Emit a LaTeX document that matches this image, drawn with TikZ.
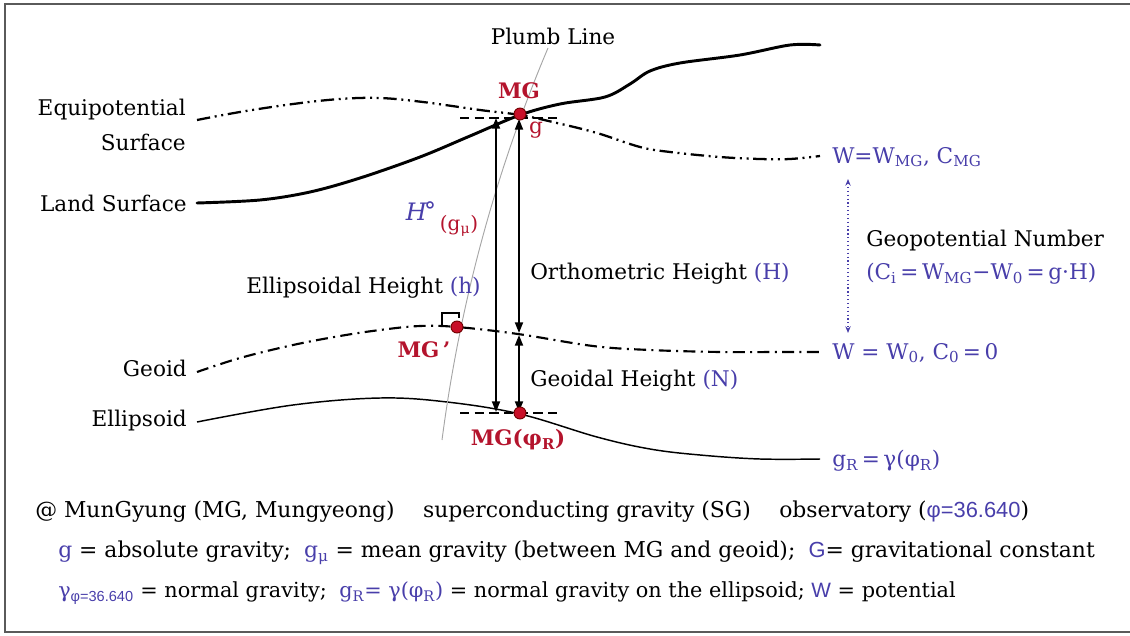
\documentclass[tikz,border=0pt]{standalone}
\usepackage{fontspec}
\setmainfont{DejaVu Serif}
\newfontfamily\lsans{Liberation Sans}
\usetikzlibrary{arrows.meta}
\definecolor{blueT}{RGB}{72,62,170}
\definecolor{redT}{RGB}{180,20,45}
\definecolor{dotred}{RGB}{200,15,40}
\definecolor{frameC}{RGB}{90,90,90}
\begin{document}
\begin{tikzpicture}[x=0.75pt,y=-0.75pt,
 lbl/.style={font=\fontsize{16.2}{19}\selectfont, inner sep=0pt},
 botlbl/.style={font=\fontsize{16.4}{19}\selectfont, inner sep=0pt},
 redlbl/.style={inner sep=0pt, text=redT, font=\fontsize{16}{19}\selectfont\bfseries},
 bluelbl/.style={lbl,text=blueT},
 mdot/.style={circle, fill=dotred, draw=red!45!black, line width=0.7pt, minimum size=9pt, inner sep=0pt},
 landS/.style={line width=2.2pt, line cap=round},
 equipS/.style={line width=1.7pt, dash pattern=on 10pt off 3.5pt on 1.5pt off 3.5pt on 1.5pt off 3.5pt},
 geoidS/.style={line width=1.6pt, dash pattern=on 9pt off 4pt on 1.5pt off 4pt},
 ellS/.style={line width=1.1pt},
 harrow/.style={line width=1.4pt, {Triangle[length=8pt,width=6pt]}-{Triangle[length=8pt,width=6pt]}},
 hdash/.style={line width=1.1pt, dash pattern=on 7pt off 4pt},
 plumbS/.style={gray!70, line width=0.7pt},
 gparrow/.style={blueT, dotted, line width=0.9pt, {Stealth[length=5pt,width=4pt]}-{Stealth[length=5pt,width=4pt]}},
]
\useasboundingbox (0,0) rectangle (1130,635);
% frame
\draw[frameC, line width=1.5pt] (1130,4) -- (5,4) -- (5,632) -- (1130,632);

% curves
\draw[landS] plot[smooth, tension=0.55] coordinates {(197,203) (260,200) (310,192) (360,178) (420,157) (470,136) (520,115) (560,104) (605,97) (630,84) (650,71) (680,63) (740,55) (790,45) (820,45)};
\draw[equipS] plot[smooth, tension=0.6] coordinates {(197,120) (240,112) (293,104) (340,99) (380,98) (423,102) (480,110) (520,115) (557,123) (597,133) (640,147) (670,152) (720,157) (760,159) (790,159) (820,156)};
\draw[geoidS] plot[smooth, tension=0.6] coordinates {(197,372) (240,358) (293,345) (340,336) (380,330) (420,326) (457,327) (518,334) (593,346) (650,350) (720,352) (780,352) (820,352)};
\draw[ellS] plot[smooth, tension=0.6] coordinates {(197,422) (293,405) (380,398) (447,402) (520,414) (597,437) (650,449) (700,455) (760,459) (820,459)};

% plumb line
\coordinate (plBot) at (442,440);
\coordinate (plTop) at (548,48);
\draw[plumbS] (plBot) .. controls (459,310) and (493,178) .. (plTop);

% dashed ticks
\coordinate (hdTa) at (460,118); \coordinate (hdTb) at (558,118);
\coordinate (hdBa) at (460,413); \coordinate (hdBb) at (558,413);
\draw[hdash] (hdTa) -- (hdTb);
\draw[hdash] (hdBa) -- (hdBb);

% height arrows
\coordinate (ehTop) at (496,118); \coordinate (ehBot) at (496,412);
\coordinate (ohTop) at (519,119); \coordinate (ohBot) at (519,333);
\coordinate (ghTop) at (519,335); \coordinate (ghBot) at (519,412);
\draw[harrow] (ehTop) -- (ehBot);
\draw[harrow] (ohTop) -- (ohBot);
\draw[harrow] (ghTop) -- (ghBot);

% right angle mark
\coordinate (ra1) at (442,326); \coordinate (ra2) at (442,313);
\coordinate (ra3) at (459,313); \coordinate (ra4) at (459,318);
\draw[line width=0.9pt] (ra1) -- (ra2) -- (ra3) -- (ra4);

% geopotential arrow
\coordinate (gpTop) at (848,179); \coordinate (gpBot) at (848,333);
\draw[gparrow] (gpTop) -- (gpBot);

% dots
\node[mdot] (mgdot) at (520,114) {};
\node[mdot] (mgpdot) at (457,327) {};
\node[mdot] (mgrdot) at (520,413) {};

% left labels
\node[lbl, anchor=east] (eq1) at (186,110) {Equipotential};
\node[lbl, anchor=east] (eq2) at (186,142) {Surface};
\node[lbl, anchor=east] (landL) at (187,203) {Land Surface};
\node[lbl, anchor=east] (geoidL) at (187,368) {Geoid};
\node[lbl, anchor=east] (ellL) at (187,421) {Ellipsoid};

% central labels
\node[lbl] (plumbL) at (553,36) {Plumb Line};
\node[redlbl] (mgL) at (519,91) {MG};
\node[lbl, text=redT] (gL) at (536,130) {g};
\node[lbl, text=blueT, font=\fontsize{18}{20}\selectfont\itshape] (HL) at (421,211) {H\kern-0.12em\raisebox{0.1ex}{°}};
\node[lbl, text=redT, font=\fontsize{15}{17}\selectfont] (gmuL) at (459,226) {(g\textsubscript{μ})};
\node[lbl, anchor=west] (ellH) at (246,288) {Ellipsoidal Height {\color{blueT}(h)}};
\node[lbl, anchor=west] (orthH) at (530,274) {Orthometric Height {\color{blueT}(H)}};
\node[lbl, anchor=west] (geoH) at (530,381) {Geoidal Height {\color{blueT}(N)}};
\node[redlbl] (mgpL) at (424,350) {MG\,'};
\node[redlbl] (mgrL) at (518,440) {MG(φ\textsubscript{R})};

% right labels
\node[bluelbl, anchor=west] (wmgL) at (832,157) {W=W\textsubscript{MG}, C\textsubscript{MG}};
\node[lbl, anchor=west] (gpnL) at (866,241) {Geopotential Number};
\node[bluelbl, anchor=west] (cformL) at (866,274) {(C\textsubscript{i}\,=\,W\textsubscript{MG}−W\textsubscript{0}\,=\,g·H)};
\node[bluelbl, anchor=west] (w0L) at (832,353) {W = W\textsubscript{0}, C\textsubscript{0}\,=\,0};
\node[bluelbl, anchor=west] (grL) at (832,461) {g\textsubscript{R}\,=\,γ(φ\textsubscript{R})};

% bottom text
\node[botlbl, anchor=west] (b1) at (35,512) {@ MunGyung (MG, Mungyeong)\hspace{1.3em}superconducting gravity (SG)\hspace{1.3em}observatory ({\color{blueT}\lsans φ=36.640})};
\node[botlbl, anchor=west] (b2) at (58,553) {{\color{blueT}g} = absolute gravity;\hspace{0.6em}{\color{blueT}g\textsubscript{μ}} = mean gravity (between MG and geoid);\hspace{0.6em}{\color{blueT}\lsans G}= gravitational constant};
\node[botlbl, anchor=west, font=\fontsize{15.6}{19}\selectfont] (b3) at (58,593) {{\color{blueT}γ\textsubscript{\lsans φ=36.640}} = normal gravity;\hspace{0.6em}{\color{blueT}g\textsubscript{R}= γ(φ\textsubscript{R})} = normal gravity on the ellipsoid; {\color{blueT}\lsans W} = potential};
\end{tikzpicture}
\end{document}
